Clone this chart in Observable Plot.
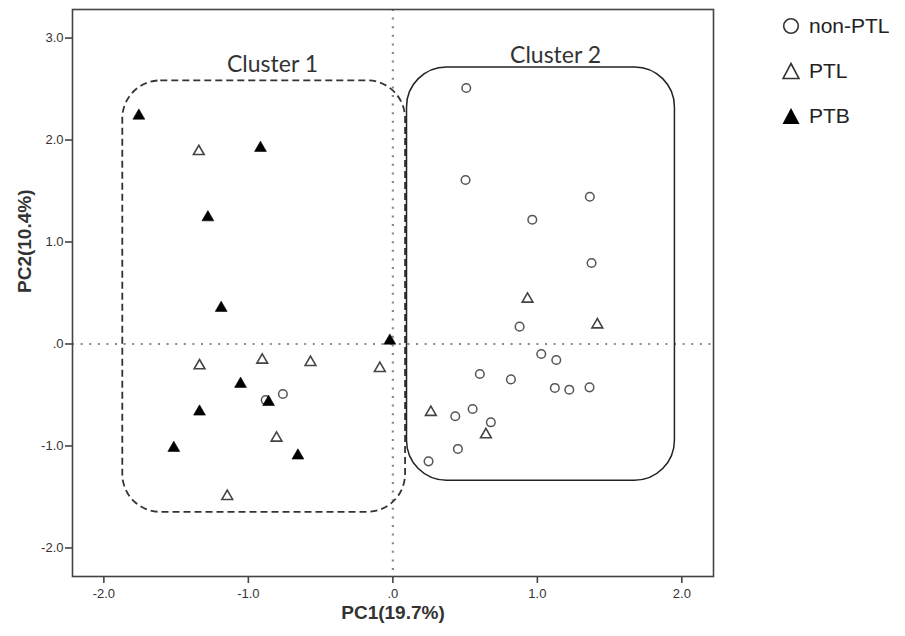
<!DOCTYPE html>
<html>
<head>
<meta charset="utf-8">
<script src="https://cdn.jsdelivr.net/npm/d3@7"></script>
<script src="https://cdn.jsdelivr.net/npm/@observablehq/plot@0.6"></script>
<style>
  html, body { margin: 0; padding: 0; background: #fff; }
  #wrap { position: relative; width: 905px; height: 636px; }
  #legend { position: absolute; left: 782px; top: 0; font-family: "Liberation Sans", Arial, sans-serif; font-size: 21px; color: #222; }
  #legend .item { position: absolute; left: 0; display: flex; align-items: center; white-space: nowrap; transform: translateY(-50%); }
  #legend svg { margin-right: 9px; }
</style>
</head>
<body>
<div id="wrap">
  <div id="chart"></div>
  <div id="legend"></div>
</div>
<script>
// ---- data ----
const nonPtlX = [-0.88, -0.761, 0.508, 0.503, 1.363, 0.965, 1.375, 0.877, 1.027, 1.131, 0.602, 0.817, 1.121, 1.221, 1.361, 0.432, 0.552, 0.678, 0.450, 0.247];
const nonPtlY = [-0.55, -0.490, 2.510, 1.608, 1.444, 1.219, 0.794, 0.170, -0.098, -0.157, -0.294, -0.347, -0.431, -0.448, -0.425, -0.709, -0.637, -0.768, -1.029, -1.151];

const ptlX = [-1.343, -1.338, -0.904, -0.570, -0.090, -0.805, -1.146, 0.932, 1.415, 0.263, 0.644];
const ptlY = [1.888, -0.213, -0.157, -0.180, -0.239, -0.922, -1.494, 0.441, 0.189, -0.670, -0.889];

const ptbX = [-1.758, -0.916, -1.280, -1.188, -0.021, -1.054, -0.86, -1.338, -1.516, -0.657];
const ptbY = [2.238, 1.922, 1.241, 0.353, 0.032, -0.392, -0.57, -0.664, -1.020, -1.095];

const clusterNames = ["Cluster 1", "Cluster 2"];
const clusterX1 = [-1.869, 0.098];
const clusterX2 = [0.088, 1.952];
const clusterY1 = [-1.651, -1.340];
const clusterY2 = [2.580, 2.712];
const clusterLabelX = [-0.833, 1.126];
const clusterLabelY = [2.74, 2.83];

const groups = ["non-PTL", "PTL", "PTB"];
const xTicks = [-2, -1, 0, 1, 2];
const yTicks = [-2, -1, 0, 1, 2, 3];
const xTitle = "PC1(19.7%)";
const yTitle = "PC2(10.4%)";

// ---- tables built from the arrays ----
const nonPtl = nonPtlX.map((x, i) => ({x, y: nonPtlY[i]}));
const ptl = ptlX.map((x, i) => ({x, y: ptlY[i]}));
const ptb = ptbX.map((x, i) => ({x, y: ptbY[i]}));
const clusters = clusterNames.map((name, i) => ({
  name, x1: clusterX1[i], x2: clusterX2[i], y1: clusterY1[i], y2: clusterY2[i],
  lx: clusterLabelX[i], ly: clusterLabelY[i]
}));

const fmt = v => v === 0 ? ".0" : v.toFixed(1);

const chart = Plot.plot({
  width: 905,
  height: 636,
  marginLeft: 72,
  marginRight: 192,
  marginTop: 9,
  marginBottom: 60,
  x: {domain: [-2.217, 2.219]},
  y: {domain: [-2.28, 3.28]},
  style: {fontFamily: "'Liberation Sans', Arial, sans-serif", fontSize: "13px", color: "#333", background: "#fff"},
  marks: [
    Plot.ruleX([0], {stroke: "#888", strokeWidth: 2.2, strokeDasharray: "2,6.6", strokeLinecap: "butt"}),
    Plot.ruleY([0], {stroke: "#888", strokeWidth: 2.2, strokeDasharray: "2,6.6", strokeLinecap: "butt"}),
    Plot.rect(clusters.filter(d => d.name === "Cluster 1"), {x1: "x1", x2: "x2", y1: "y1", y2: "y2", rx: 38, fill: "none", stroke: "#333", strokeWidth: 1.8, strokeDasharray: "7,4"}),
    Plot.rect(clusters.filter(d => d.name === "Cluster 2"), {x1: "x1", x2: "x2", y1: "y1", y2: "y2", rx: 40, fill: "none", stroke: "#222", strokeWidth: 1.5}),
    Plot.text(clusters, {x: "lx", y: "ly", text: "name", fontFamily: "Lato, 'Open Sans', sans-serif", fontSize: 23, fill: "#333"}),
    Plot.dot(nonPtl, {x: "x", y: "y", r: 4.3, symbol: "circle", fill: "#fff", stroke: "#555", strokeWidth: 1.5}),
    Plot.dot(ptl, {x: "x", y: "y", r: 4.0, symbol: "triangle", fill: "#fff", stroke: "#444", strokeWidth: 1.6}),
    Plot.dot(ptb, {x: "x", y: "y", r: 4.4, symbol: "triangle", fill: "#000", stroke: "#000", strokeWidth: 0.6}),
    Plot.frame({stroke: "#444", strokeWidth: 1.6}),
    Plot.axisX({ticks: xTicks, tickFormat: fmt, tickSize: 7, tickPadding: 5, stroke: "#444", strokeWidth: 1.6, fill: "#333", fontSize: 13, label: null}),
    Plot.axisY({ticks: yTicks, tickFormat: fmt, tickSize: 7, tickPadding: 2, stroke: "#444", strokeWidth: 1.6, fill: "#333", fontSize: 13, label: null}),
    Plot.text([xTitle], {frameAnchor: "bottom", dy: 42, text: d => d, fontWeight: "bold", fontSize: 19, fill: "#333"}),
    Plot.text([yTitle], {frameAnchor: "left", dx: -48, rotate: -90, text: d => d, fontWeight: "bold", fontSize: 19, fill: "#333"})
  ]
});
document.getElementById("chart").appendChild(chart);

// ---- legend ----
const legendCenters = [26, 71, 116];
const legend = document.getElementById("legend");
groups.forEach((g, i) => {
  const item = document.createElement("div");
  item.className = "item";
  item.style.top = legendCenters[i] + "px";
  let sym;
  if (g === "non-PTL") sym = '<circle cx="9" cy="9" r="7.3" fill="#fff" stroke="#333" stroke-width="1.6"/>';
  else if (g === "PTL") sym = '<path d="M9,1.5 L17,16.5 L1,16.5 Z" fill="#fff" stroke="#333" stroke-width="1.6"/>';
  else sym = '<path d="M9,1 L17.5,17 L0.5,17 Z" fill="#000"/>';
  item.innerHTML = '<svg width="18" height="18" viewBox="0 0 18 18">' + sym + '</svg><span>' + g + '</span>';
  legend.appendChild(item);
});
</script>
</body>
</html>
